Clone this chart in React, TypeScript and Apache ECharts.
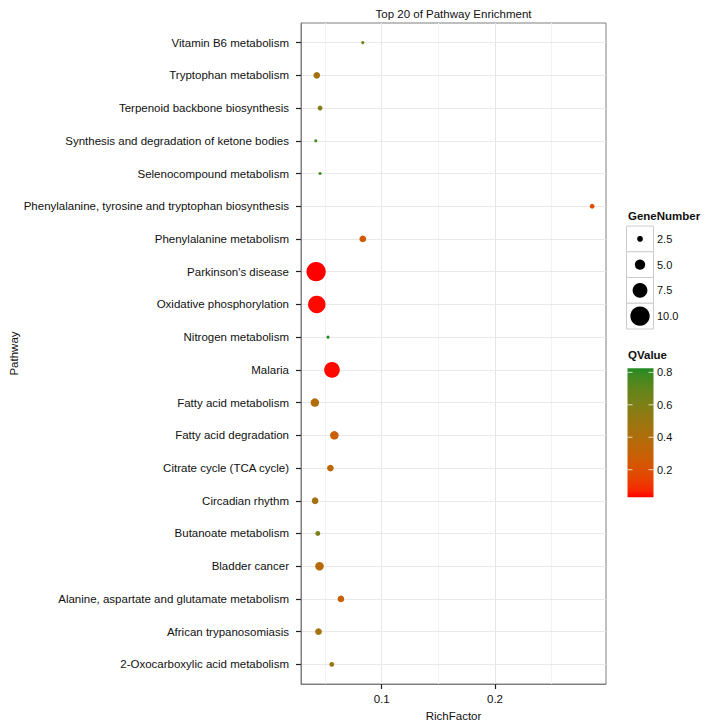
import React, { useEffect, useRef } from "react";
import * as echarts from "echarts";

// ---------- data (bottom-to-top order of the y axis) ----------
const pathways = [
  "2-Oxocarboxylic acid metabolism",
  "African trypanosomiasis",
  "Alanine, aspartate and glutamate metabolism",
  "Bladder cancer",
  "Butanoate metabolism",
  "Circadian rhythm",
  "Citrate cycle (TCA cycle)",
  "Fatty acid degradation",
  "Fatty acid metabolism",
  "Malaria",
  "Nitrogen metabolism",
  "Oxidative phosphorylation",
  "Parkinson's disease",
  "Phenylalanine metabolism",
  "Phenylalanine, tyrosine and tryptophan biosynthesis",
  "Selenocompound metabolism",
  "Synthesis and degradation of ketone bodies",
  "Terpenoid backbone biosynthesis",
  "Tryptophan metabolism",
  "Vitamin B6 metabolism",
];
const richFactor = [
  0.0559, 0.0442, 0.064, 0.0451, 0.0436, 0.0412, 0.0547, 0.0582, 0.041, 0.0561,
  0.0526, 0.0427, 0.0421, 0.0833, 0.2857, 0.0456, 0.0418, 0.0456, 0.0427, 0.0833,
];
const geneNumber = [2, 3, 3, 4, 2, 3, 3, 4, 4, 8, 1, 9, 10, 3, 2, 1, 1, 2, 3, 1];
const qValue = [
  0.5, 0.45, 0.3, 0.36, 0.62, 0.45, 0.35, 0.28, 0.4, 0.035,
  0.825, 0.035, 0.03, 0.25, 0.18, 0.78, 0.76, 0.58, 0.45, 0.65,
];
const xMajorTicks = [0.1, 0.2];
const xMinorGrid = [0.05, 0.15, 0.25];
const sizeLegendValues = [2.5, 5.0, 7.5, 10.0];
const qLegendTicks = [0.2, 0.4, 0.6, 0.8];
const qLow = 0.03;
const qHigh = 0.825;

// ---------- styling ----------
const FONT = "Liberation Sans, Arial, Helvetica, sans-serif";
const TEXT = "#111111";
const LOW_COLOR = "#FF0000";
const HIGH_COLOR = "#228B22";

function hexToRgb(h: string) {
  const n = parseInt(h.slice(1), 16);
  return [(n >> 16) & 255, (n >> 8) & 255, n & 255];
}
function toLin(c: number) {
  c /= 255;
  return c <= 0.04045 ? c / 12.92 : Math.pow((c + 0.055) / 1.055, 2.4);
}
function fromLin(c: number) {
  const v = c <= 0.0031308 ? 12.92 * c : 1.055 * Math.pow(Math.max(c, 0), 1 / 2.4) - 0.055;
  return Math.round(Math.max(0, Math.min(1, v)) * 255);
}
function rgbToLab(rgb: number[]) {
  const R = toLin(rgb[0]), G = toLin(rgb[1]), B = toLin(rgb[2]);
  const X = (0.4124 * R + 0.3576 * G + 0.1805 * B) / 0.95047;
  const Y = 0.2126 * R + 0.7152 * G + 0.0722 * B;
  const Z = (0.0193 * R + 0.1192 * G + 0.9505 * B) / 1.08883;
  const f = (t: number) => (t > 0.008856 ? Math.cbrt(t) : 7.787 * t + 16 / 116);
  const fx = f(X), fy = f(Y), fz = f(Z);
  return [116 * fy - 16, 500 * (fx - fy), 200 * (fy - fz)];
}
function labToRgb(lab: number[]) {
  const fy = (lab[0] + 16) / 116;
  const fx = fy + lab[1] / 500;
  const fz = fy - lab[2] / 200;
  const fi = (t: number) => (t * t * t > 0.008856 ? t * t * t : (t - 16 / 116) / 7.787);
  const X = fi(fx) * 0.95047, Y = fi(fy), Z = fi(fz) * 1.08883;
  const R = 3.2406 * X - 1.5372 * Y - 0.4986 * Z;
  const G = -0.9689 * X + 1.8758 * Y + 0.0415 * Z;
  const B = 0.0557 * X - 0.204 * Y + 1.057 * Z;
  return [fromLin(R), fromLin(G), fromLin(B)];
}
const labLow = rgbToLab(hexToRgb(LOW_COLOR));
const labHigh = rgbToLab(hexToRgb(HIGH_COLOR));
function mixColor(t: number) {
  const tt = Math.max(0, Math.min(1, t));
  const l = labLow.map((v, i) => v + (labHigh[i] - v) * tt);
  const c = labToRgb(l);
  return `rgb(${c[0]},${c[1]},${c[2]})`;
}
function qColor(q: number) {
  return mixColor((q - qLow) / (qHigh - qLow));
}
function sizeFn(n: number) {
  return 1.8 * n + 1.3;
}

export default function App() {
  const ref = useRef<HTMLDivElement>(null);

  useEffect(() => {
    if (!ref.current) return;
    const chart = echarts.init(ref.current, undefined, { renderer: "svg" });

    const gridLeft = 301;
    const gridRight = 606;
    const gridTop = 23;
    const gridBottom = 684;

    const xlo = Math.min(...richFactor);
    const xhi = Math.max(...richFactor);
    const xMin = xlo - (xhi - xlo) * 0.05;
    const xMax = xhi + (xhi - xlo) * 0.05;

    const points = pathways.map((_, i) => [richFactor[i], i, qValue[i], geneNumber[i]]);
    const yIdx = pathways.map((_, i) => i);

    const gridLines: any[] = [
      ...xMinorGrid.map((v) => ({ xAxis: v, lineStyle: { color: "#f3f3f3", width: 1, type: "solid" } })),
      ...xMajorTicks.map((v) => ({ xAxis: v, lineStyle: { color: "#e6e6e6", width: 1, type: "solid" } })),
      ...yIdx.map((v) => ({ yAxis: v, lineStyle: { color: "#e9e9e9", width: 1, type: "solid" } })),
    ];

    // legend graphics
    const g: any[] = [];
    g.push({
      type: "text",
      x: (gridLeft + gridRight) / 2,
      y: 14,
      style: { text: "Top 20 of Pathway Enrichment", font: `11.5px ${FONT}`, fill: TEXT, textAlign: "center", textVerticalAlign: "middle" },
    });
    g.push({
      type: "text",
      x: 628,
      y: 216,
      style: { text: "GeneNumber", font: `bold 11.5px ${FONT}`, fill: TEXT, textAlign: "left", textVerticalAlign: "middle" },
    });
    const boxTop = 226;
    const boxH = 25.75;
    const boxX = 626.5;
    const boxW = 27;
    sizeLegendValues.forEach((v, i) => {
      const y0 = boxTop + i * boxH;
      g.push({ type: "rect", shape: { x: boxX, y: y0, width: boxW, height: boxH }, style: { fill: "#fff", stroke: "#cccccc", lineWidth: 1 } });
      g.push({ type: "circle", shape: { cx: boxX + boxW / 2, cy: y0 + boxH / 2, r: sizeFn(v) / 2 }, style: { fill: "#000" } });
      g.push({
        type: "text",
        x: 657,
        y: y0 + boxH / 2,
        style: { text: v.toFixed(1), font: `11px ${FONT}`, fill: TEXT, textAlign: "left", textVerticalAlign: "middle" },
      });
    });
    g.push({
      type: "text",
      x: 628,
      y: 355,
      style: { text: "QValue", font: `bold 11.5px ${FONT}`, fill: TEXT, textAlign: "left", textVerticalAlign: "middle" },
    });
    const barX = 627.5, barY = 368.3, barW = 26, barH = 129;
    const stops: any[] = [];
    for (let k = 0; k <= 20; k++) {
      const t = k / 20;
      stops.push({ offset: t, color: mixColor(1 - t) });
    }
    g.push({
      type: "rect",
      shape: { x: barX, y: barY, width: barW, height: barH },
      style: { fill: { type: "linear", x: 0, y: 0, x2: 0, y2: 1, colorStops: stops } },
    });
    qLegendTicks.forEach((t) => {
      const y = barY + barH - ((t - qLow) / (qHigh - qLow)) * barH;
      g.push({ type: "line", shape: { x1: barX, y1: y, x2: barX + 5, y2: y }, style: { stroke: "rgba(255,255,255,0.75)", lineWidth: 1 } });
      g.push({ type: "line", shape: { x1: barX + barW - 5, y1: y, x2: barX + barW, y2: y }, style: { stroke: "rgba(255,255,255,0.75)", lineWidth: 1 } });
      g.push({
        type: "text",
        x: 657,
        y,
        style: { text: t.toFixed(1), font: `11px ${FONT}`, fill: TEXT, textAlign: "left", textVerticalAlign: "middle" },
      });
    });

    chart.setOption({
      animation: false,
      backgroundColor: "#ffffff",
      textStyle: { fontFamily: FONT },
      grid: {
        left: gridLeft,
        top: gridTop,
        width: gridRight - gridLeft,
        height: gridBottom - gridTop,
        show: true,
        borderColor: "#7f7f7f",
        borderWidth: 1,
        backgroundColor: "transparent",
        containLabel: false,
      },
      xAxis: {
        type: "value",
        min: xMin,
        max: xMax,
        position: "bottom",
        axisLine: { show: true, onZero: false, lineStyle: { color: "#7f7f7f", width: 1 } },
        splitLine: { show: false },
        axisTick: { show: true, inside: false, customValues: xMajorTicks, length: 5, lineStyle: { color: "#222", width: 1.2 } },
        axisLabel: {
          customValues: xMajorTicks,
          formatter: (v: number) => String(Math.round(v * 100) / 100),
          fontSize: 11.5,
          color: TEXT,
          margin: 9,
          fontFamily: FONT,
        },
        name: "RichFactor",
        nameLocation: "middle",
        nameGap: 24,
        nameTextStyle: { fontSize: 11.5, color: TEXT, fontFamily: FONT },
      },
      yAxis: {
        type: "value",
        min: -0.6,
        max: pathways.length - 1 + 0.6,
        position: "left",
        axisLine: { show: true, onZero: false, lineStyle: { color: "#7f7f7f", width: 1 } },
        splitLine: { show: false },
        axisTick: { show: true, inside: false, customValues: yIdx, length: 5, lineStyle: { color: "#222", width: 1.2 } },
        axisLabel: {
          customValues: yIdx,
          formatter: (v: number) => pathways[Math.round(v)] ?? "",
          fontSize: 11.5,
          color: TEXT,
          margin: 12,
          fontFamily: FONT,
        },
        name: "Pathway",
        nameLocation: "middle",
        nameGap: 281,
        nameTextStyle: { fontSize: 11.5, color: TEXT, fontFamily: FONT },
      },
      series: [
        {
          type: "scatter",
          data: [],
          silent: true,
          z: 1,
          markLine: { z: 0, silent: true, symbol: ["none", "none"], label: { show: false }, animation: false, data: gridLines },
        },
        {
          type: "scatter",
          z: 10,
          data: points,
          symbol: "circle",
          symbolSize: (v: number[]) => sizeFn(v[3]),
          itemStyle: { color: (p: any) => qColor(p.value[2]), opacity: 1 },
          emphasis: { disabled: true },
        },
      ],
      graphic: g,
    });

    return () => chart.dispose();
  }, []);

  return <div ref={ref} style={{ position: "fixed", left: 0, top: 0, width: 710, height: 727 }} />;
}
